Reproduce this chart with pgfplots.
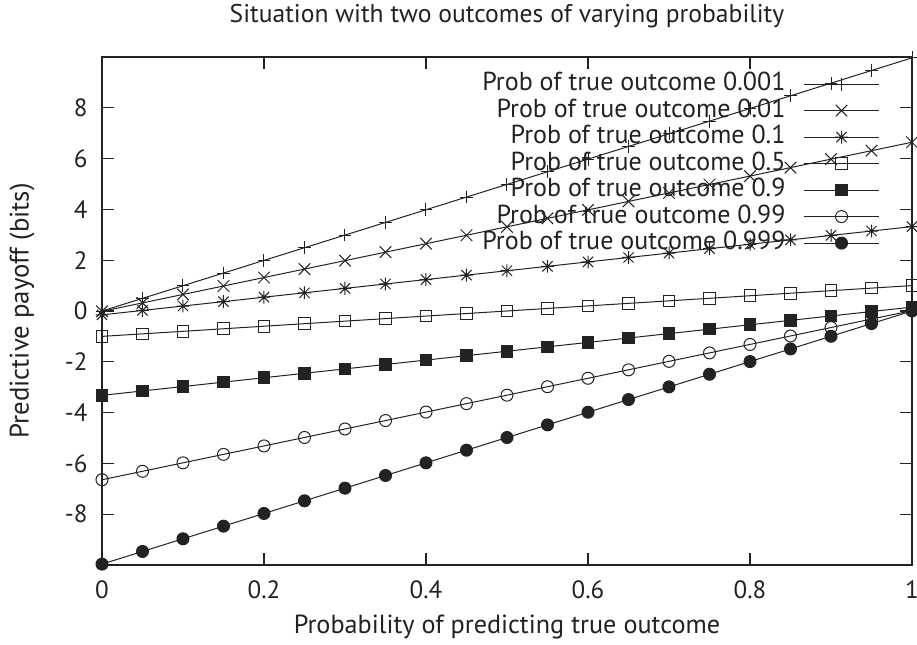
\documentclass[border=0pt]{standalone}
\usepackage{fontspec}
\setmainfont{PT Sans}
\usepackage{pgfplots}
\usepackage{pgfplotstable}
\pgfplotsset{compat=1.18}
\pgfdeclareplotmark{gpstar}{%
 \pgfpathmoveto{\pgfqpoint{-\pgfplotmarksize}{0pt}}\pgfpathlineto{\pgfqpoint{\pgfplotmarksize}{0pt}}%
 \pgfpathmoveto{\pgfqpoint{0pt}{-\pgfplotmarksize}}\pgfpathlineto{\pgfqpoint{0pt}{\pgfplotmarksize}}%
 \pgfpathmoveto{\pgfqpoint{-.8\pgfplotmarksize}{-.8\pgfplotmarksize}}\pgfpathlineto{\pgfqpoint{.8\pgfplotmarksize}{.8\pgfplotmarksize}}%
 \pgfpathmoveto{\pgfqpoint{-.8\pgfplotmarksize}{.8\pgfplotmarksize}}\pgfpathlineto{\pgfqpoint{.8\pgfplotmarksize}{-.8\pgfplotmarksize}}%
 \pgfusepathqstroke}
\pgfdeclareplotmark{gpx}{%
 \pgfpathmoveto{\pgfqpoint{-.9\pgfplotmarksize}{-.9\pgfplotmarksize}}\pgfpathlineto{\pgfqpoint{.9\pgfplotmarksize}{.9\pgfplotmarksize}}%
 \pgfpathmoveto{\pgfqpoint{-.9\pgfplotmarksize}{.9\pgfplotmarksize}}\pgfpathlineto{\pgfqpoint{.9\pgfplotmarksize}{-.9\pgfplotmarksize}}%
 \pgfusepathqstroke}
\pgfplotstableread{
x     pa       pb       pc       pd     pe       pf       pg
0.00  -0.0014  -0.0145  -0.1520  -1.0   -3.3219  -6.6439  -9.9658
0.05   0.4969   0.3184   0.0217  -0.9   -3.1482  -6.3110  -9.4675
0.10   0.9953   0.6513   0.1954  -0.8   -2.9746  -5.9780  -8.9691
0.15   1.4937   0.9843   0.3691  -0.7   -2.8009  -5.6451  -8.4708
0.20   1.9920   1.3172   0.5428  -0.6   -2.6272  -5.3122  -7.9724
0.25   2.4904   1.6501   0.7165  -0.5   -2.4535  -4.9793  -7.4740
0.30   2.9888   1.9830   0.8902  -0.4   -2.2798  -4.6464  -6.9757
0.35   3.4871   2.3159   1.0639  -0.3   -2.1061  -4.3134  -6.4773
0.40   3.9855   2.6489   1.2376  -0.2   -1.9324  -3.9805  -5.9789
0.45   4.4838   2.9818   1.4113  -0.1   -1.7587  -3.6476  -5.4806
0.50   4.9822   3.3147   1.5850   0.0   -1.5850  -3.3147  -4.9822
0.55   5.4806   3.6476   1.7587   0.1   -1.4113  -2.9818  -4.4838
0.60   5.9789   3.9805   1.9324   0.2   -1.2376  -2.6489  -3.9855
0.65   6.4773   4.3134   2.1061   0.3   -1.0639  -2.3159  -3.4871
0.70   6.9757   4.6464   2.2798   0.4   -0.8902  -1.9830  -2.9888
0.75   7.4740   4.9793   2.4535   0.5   -0.7165  -1.6501  -2.4904
0.80   7.9724   5.3122   2.6272   0.6   -0.5428  -1.3172  -1.9920
0.85   8.4708   5.6451   2.8009   0.7   -0.3691  -0.9843  -1.4937
0.90   8.9691   5.9780   2.9746   0.8   -0.1954  -0.6513  -0.9953
0.95   9.4675   6.3110   3.1482   0.9   -0.0217  -0.3184  -0.4969
1.00   9.9658   6.6439   3.3219   1.0    0.1520   0.0145   0.0014
}\data
\definecolor{ink}{HTML}{222222}
\begin{document}
\begin{tikzpicture}
\begin{axis}[
  scale only axis, width=405pt, height=254pt,
  xmin=0, xmax=1, ymin=-10, ymax=10,
  xtick={0,0.2,0.4,0.6,0.8,1}, xticklabels={0,0.2,0.4,0.6,0.8,1},
  ytick={-8,-6,-4,-2,0,2,4,6,8}, yticklabels={-8,-6,-4,-2,0,2,4,6,8},
  tick align=inside, major tick length=6pt,
  axis line style={line width=0.8pt, ink},
  every tick/.style={line width=0.6pt, ink},
  tick label style={font=\fontsize{12.5}{14}\selectfont, text=ink},
  xticklabel style={anchor=center, yshift=-12.5pt},
  yticklabel style={anchor=east, inner sep=0pt, xshift=-7pt},
  xlabel={Probability of predicting true outcome},
  ylabel={Predictive payoff (bits)},
  xlabel style={font=\fontsize{13.1}{15}\selectfont, text=ink, at={(axis description cs:0.5,-0.122)}, anchor=center},
  ylabel style={font=\fontsize{13.4}{15}\selectfont, text=ink, at={(axis description cs:-0.0988,0.5)}, anchor=center},
  title={Situation with two outcomes of varying probability},
  title style={font=\fontsize{12.8}{14}\selectfont, text=ink, at={(axis description cs:0.5,1.0561)}, anchor=center},
  legend plot pos=right,
  legend cell align=right,
  legend style={draw=none, fill=none, at={(0.9605,0.972)}, anchor=north east,
    font=\fontsize{13}{15}\selectfont, text=ink, inner sep=0pt,
    row sep=0.75pt,
    nodes={inner sep=0pt, text height=9.5pt, text depth=3pt},
    /tikz/every odd column/.append style={column sep=9pt}},
  legend image code/.code={\draw[mark repeat=2,mark phase=2] plot coordinates {(0cm,0cm) (0.66cm,0cm) (1.32cm,0cm)};},
  every axis plot/.append style={ink, line width=0.5pt, mark size=3.2pt, mark options={solid, line width=0.5pt}},
]
\addplot[mark=+] table[x=x,y=pa] {\data};
\addlegendentry{Prob of true outcome 0.001}
\addplot[mark=gpx] table[x=x,y=pb] {\data};
\addlegendentry{Prob of true outcome 0.01}
\addplot[mark=gpstar] table[x=x,y=pc] {\data};
\addlegendentry{Prob of true outcome 0.1}
\addplot[mark=square, mark size=2.9pt] table[x=x,y=pd] {\data};
\addlegendentry{Prob of true outcome 0.5}
\addplot[mark=square*, mark size=2.9pt, mark options={fill=ink}] table[x=x,y=pe] {\data};
\addlegendentry{Prob of true outcome 0.9}
\addplot[mark=o, mark size=3pt] table[x=x,y=pf] {\data};
\addlegendentry{Prob of true outcome 0.99}
\addplot[mark=*, mark size=3pt, mark options={fill=ink}] table[x=x,y=pg] {\data};
\addlegendentry{Prob of true outcome 0.999}
\end{axis}
\pgfresetboundingbox
\path[use as bounding box] ([xshift=-51pt,yshift=-40pt]current axis.south west) rectangle ([xshift=2.5pt,yshift=28.5pt]current axis.north east);
\end{tikzpicture}
\end{document}
